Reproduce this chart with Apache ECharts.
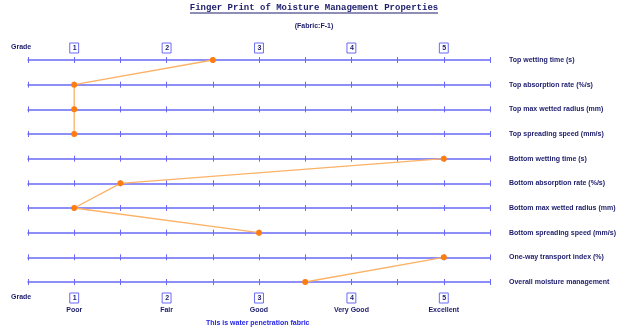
<!DOCTYPE html>
<html><head><meta charset="utf-8">
<script src="https://cdn.jsdelivr.net/npm/echarts@6/dist/echarts.min.js"></script>
<style>html,body{margin:0;padding:0;background:#fff}#c{width:628px;height:331px}</style>
</head><body><div id="c"></div>
<script>
const categories = [
  'Top wetting time (s)',
  'Top absorption rate (%/s)',
  'Top max wetted radius (mm)',
  'Top spreading speed (mm/s)',
  'Bottom wetting time (s)',
  'Bottom absorption rate (%/s)',
  'Bottom max wetted radius (mm)',
  'Bottom spreading speed (mm/s)',
  'One-way transport index (%)',
  'Overall moisture management'
];
const grades = [2.5, 1, 1, 1, 5, 1.5, 1, 3, 5, 3.5];
const segments = [[0, 3], [4, 7], [8, 9]];
const gradeTicks = [1, 2, 3, 4, 5];
const gradeNames = ['Poor', 'Fair', 'Good', 'Very Good', 'Excellent'];

const navy = '#1c1c6c';
const blue = '#6a6af6';
const F = 'Arial, "Liberation Sans", sans-serif';
const chart = echarts.init(document.getElementById('c'));
const gridTop = 60, gridBottom = 49, H = 331;
const step = (H - gridTop - gridBottom) / (categories.length - 1);

const baseX = {type: 'value', min: 0.5, max: 5.5, interval: 0.5, gridIndex: 0,
  splitLine: {show: false}, axisLine: {show: false}, axisTick: {show: false}, axisLabel: {show: false}};
const xAxes = [];
xAxes.push(Object.assign({}, baseX, {position: 'top', axisLabel: {show: true, margin: 7,
  formatter: v => gradeTicks.indexOf(v) >= 0 ? '{b|' + v + '}' : '',
  rich: {b: {fontFamily: F, fontSize: 7, fontWeight: 'bold', color: navy, borderColor: blue, borderWidth: 1, padding: [2, 2, 1, 3]}}}}));
xAxes.push(Object.assign({}, baseX, {position: 'bottom', axisLabel: {show: true, margin: 9, verticalAlign: 'top',
  formatter: v => { const k = gradeTicks.indexOf(v); return k >= 0 ? '{b|' + v + '}\n{t|' + gradeNames[k] + '}' : ''; },
  rich: {b: {fontFamily: F, fontSize: 7, fontWeight: 'bold', color: navy, borderColor: blue, borderWidth: 1, padding: [2, 2, 1, 3], lineHeight: 14},
         t: {fontFamily: F, fontSize: 7, fontWeight: 'bold', color: navy, lineHeight: 11}}}}));
for (let i = 0; i < categories.length; i++) {
  xAxes.push(Object.assign({}, baseX, {position: 'top', offset: -i * step, axisLine: {show: true, lineStyle: {color: blue, width: 1.6}}}));
  xAxes.push(Object.assign({}, baseX, {position: 'top', offset: -i * step - 3, axisTick: {show: true, length: 6, inside: false, lineStyle: {color: blue, width: 1}}}));
}

const series = segments.map(s => ({
  type: 'line', xAxisIndex: 0, yAxisIndex: 0,
  data: categories.slice(s[0], s[1] + 1).map((c, k) => [grades[s[0] + k], c]),
  symbol: 'circle', symbolSize: 6, lineStyle: {color: '#fbb266', width: 1.3},
  itemStyle: {color: '#ff7d10'}, animation: false
}));

chart.setOption({
  animation: false,
  grid: [{left: 28, right: 138, top: gridTop, bottom: gridBottom}],
  xAxis: xAxes,
  yAxis: [{type: 'category', data: categories, inverse: true, boundaryGap: false, position: 'right',
    axisLine: {show: false}, axisTick: {show: false}, splitLine: {show: false},
    axisLabel: {margin: 19, align: 'left', fontFamily: F, fontSize: 7, fontWeight: 'bold', color: navy}}],
  series: series,
  graphic: [
    {type: 'text', left: 'center', top: 3, style: {text: 'Finger Print of Moisture Management Properties', font: 'bold 9px "Liberation Mono", "Courier New", monospace', fill: navy}},
    {type: 'line', shape: {x1: 190, y1: 13, x2: 438, y2: 13}, style: {stroke: navy, lineWidth: 1}},
    {type: 'text', left: 'center', top: 23, style: {text: '(Fabric:F-1)', font: 'bold 7px Arial, "Liberation Sans", sans-serif', fill: navy}},
    {type: 'text', left: 11, top: 44, style: {text: 'Grade', font: 'bold 7px Arial, "Liberation Sans", sans-serif', fill: navy}},
    {type: 'text', left: 11, top: 294, style: {text: 'Grade', font: 'bold 7px Arial, "Liberation Sans", sans-serif', fill: navy}},
    {type: 'text', left: 206, top: 320, style: {text: 'This is water penetration fabric', font: 'bold 7px Arial, "Liberation Sans", sans-serif', fill: '#2424e6'}}
  ]
});
</script></body></html>
